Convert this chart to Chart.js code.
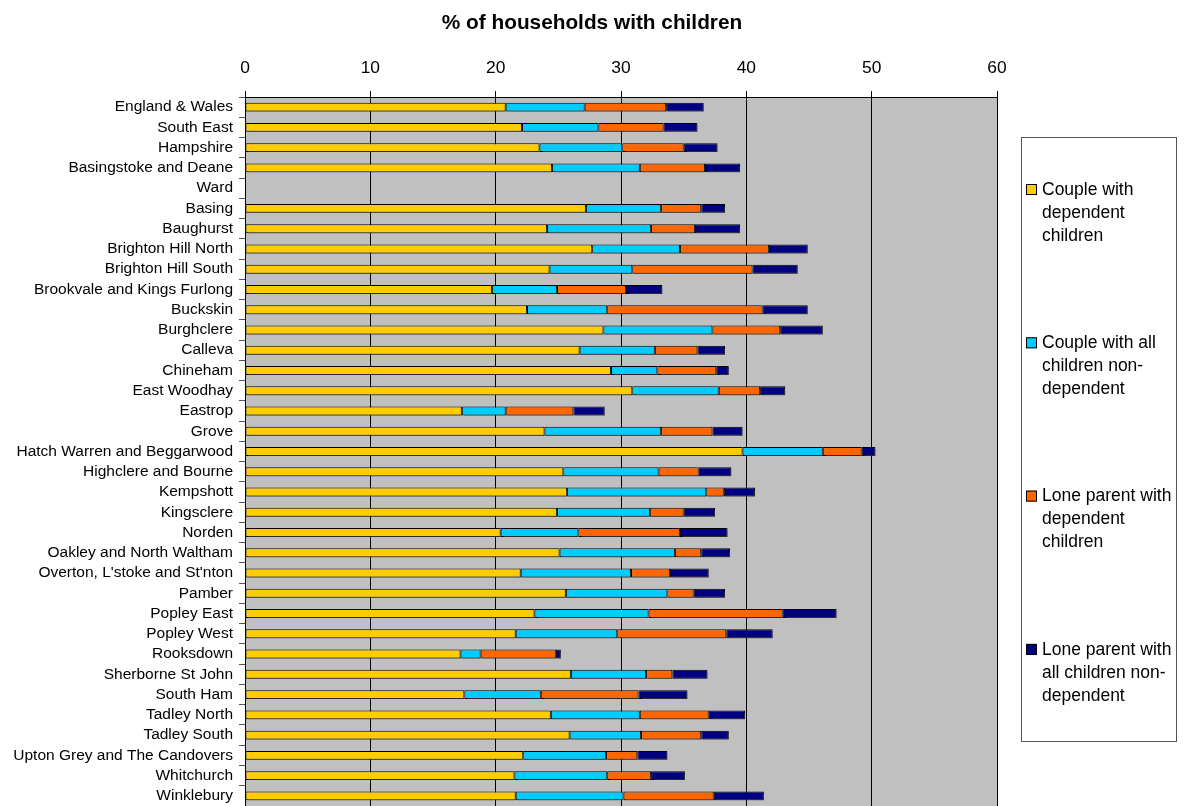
<!DOCTYPE html>
<html>
<head>
<meta charset="utf-8">
<script src="https://cdn.jsdelivr.net/npm/chart.js@4.4.1/dist/chart.umd.min.js"></script>
<style>
  html, body { margin: 0; padding: 0; background: #ffffff; }
  #wrap { width: 1187px; height: 806px; }
</style>
</head>
<body>
<div id="wrap"><canvas id="chart" width="1187" height="806"></canvas></div>
<script>
const categories = [
    "England & Wales", "South East", "Hampshire", "Basingstoke and Deane", "Ward",
    "Basing", "Baughurst", "Brighton Hill North", "Brighton Hill South",
    "Brookvale and Kings Furlong", "Buckskin", "Burghclere", "Calleva", "Chineham",
    "East Woodhay", "Eastrop", "Grove", "Hatch Warren and Beggarwood",
    "Highclere and Bourne", "Kempshott", "Kingsclere", "Norden",
    "Oakley and North Waltham", "Overton, L'stoke and St'nton", "Pamber",
    "Popley East", "Popley West", "Rooksdown", "Sherborne St John", "South Ham",
    "Tadley North", "Tadley South", "Upton Grey and The Candovers", "Whitchurch",
    "Winklebury"
];

const seriesNames = [
    "Couple with dependent children",
    "Couple with all children non-dependent",
    "Lone parent with dependent children",
    "Lone parent with all children non-dependent"
];

// % of households, one value per category (Ward is a heading row)
const coupleDependent = [
    20.8, 22.1, 23.5, 24.5, null, 27.2, 24.1, 27.7, 24.3, 19.7, 22.5, 28.6, 26.7, 29.2,
    30.9, 17.3, 23.9, 39.7, 25.4, 25.7, 24.9, 20.4, 25.1, 22.0, 25.6, 23.1, 21.6, 17.2,
    26.0, 17.5, 24.4, 25.9, 22.2, 21.5, 21.6
];
const coupleNonDependent = [
    6.3, 6.1, 6.6, 7.0, null, 6.0, 8.3, 7.0, 6.6, 5.2, 6.4, 8.7, 6.0, 3.7,
    6.9, 3.5, 9.3, 6.4, 7.6, 11.1, 7.4, 6.2, 9.2, 8.8, 8.1, 9.1, 8.1, 1.6,
    6.0, 6.1, 7.1, 5.7, 6.6, 7.4, 8.6
];
const loneDependent = [
    6.5, 5.2, 4.9, 5.2, null, 3.2, 3.5, 7.1, 9.6, 5.5, 12.4, 5.4, 3.4, 4.7,
    3.3, 5.4, 4.1, 3.1, 3.2, 1.4, 2.7, 8.1, 2.1, 3.1, 2.1, 10.7, 8.7, 6.0,
    2.1, 7.8, 5.5, 4.8, 2.5, 3.5, 7.2
];
const loneNonDependent = [
    3.0, 2.7, 2.7, 2.8, null, 1.9, 3.6, 3.1, 3.6, 2.9, 3.6, 3.4, 2.2, 1.0,
    2.0, 2.5, 2.4, 1.1, 2.6, 2.5, 2.5, 3.8, 2.3, 3.1, 2.5, 4.3, 3.7, 0.4,
    2.8, 3.9, 2.9, 2.2, 2.4, 2.7, 4.0
];

const tickValues = [0, 10, 20, 30, 40, 50, 60];

const colors = ["#FFCC00", "#00CCFF", "#FF6600", "#000080"];
const FONT = "'Liberation Sans', Arial, sans-serif";
const titleText = "% of households with children";

const PLOT_LEFT = 245;
const PLOT_TOP = 97;

// grey plot area
const plotBackground = {
    id: "plotBackground",
    beforeDraw(chart) {
        const { ctx, chartArea } = chart;
        ctx.save();
        ctx.fillStyle = "#C0C0C0";
        ctx.fillRect(chartArea.left, chartArea.top, chartArea.right - chartArea.left, chartArea.bottom - chartArea.top);
        ctx.restore();
    }
};

// excel-style drop shadow under the bars
const barShadow = {
    id: "barShadow",
    beforeDatasetsDraw(chart) {
        const ctx = chart.ctx;
        ctx.save();
        ctx.shadowColor = "rgba(70,70,70,0.6)";
        ctx.shadowOffsetX = 2;
        ctx.shadowOffsetY = 2;
        ctx.shadowBlur = 0;
    },
    afterDatasetsDraw(chart) {
        chart.ctx.restore();
    }
};

function wrapText(ctx, text, maxWidth) {
    const tokens = text.match(/[^\s-]+-?/g);
    const lines = [];
    let line = "";
    tokens.forEach(tok => {
        const joiner = (line === "" || line.endsWith("-")) ? "" : " ";
        const test = line + joiner + tok;
        if (line !== "" && ctx.measureText(test).width > maxWidth) {
            lines.push(line);
            line = tok;
        } else {
            line = test;
        }
    });
    if (line) lines.push(line);
    return lines;
}

// title centred on the whole picture + boxed legend on the right
const titleAndLegend = {
    id: "titleAndLegend",
    afterDraw(chart) {
        const ctx = chart.ctx;
        ctx.save();
        ctx.fillStyle = "#000000";
        ctx.font = "bold 20.8px " + FONT;
        ctx.textAlign = "center";
        ctx.textBaseline = "middle";
        ctx.fillText(titleText, 592, 23);

        const box = { x: 1021, y: 137, w: 155, h: 604 };
        ctx.fillStyle = "#ffffff";
        ctx.fillRect(box.x, box.y, box.w, box.h);
        ctx.strokeStyle = "#555555";
        ctx.lineWidth = 1;
        ctx.strokeRect(box.x + 0.5, box.y + 0.5, box.w, box.h);

        ctx.font = "17.5px " + FONT;
        ctx.textAlign = "left";
        const firstY = 190, itemGap = 153.3, lineH = 23;
        chart.data.datasets.forEach((ds, i) => {
            const y0 = firstY + i * itemGap;
            ctx.fillStyle = ds.backgroundColor;
            ctx.fillRect(1026, y0 - 6, 11, 11);
            ctx.strokeStyle = "#000000";
            ctx.strokeRect(1026.5, y0 - 5.5, 10, 10);
            ctx.fillStyle = "#000000";
            wrapText(ctx, ds.label, 134).forEach((ln, j) => {
                ctx.fillText(ln, 1042, y0 + j * lineH);
            });
        });
        ctx.restore();
    }
};

const seriesData = [coupleDependent, coupleNonDependent, loneDependent, loneNonDependent];

new Chart(document.getElementById("chart"), {
    type: "bar",
    data: {
        labels: categories,
        datasets: seriesNames.map((name, i) => ({
            label: name,
            data: seriesData[i],
            backgroundColor: colors[i],
            borderColor: "#000000",
            borderWidth: 1,
            borderSkipped: false,
            categoryPercentage: 1,
            barPercentage: 0.44
        }))
    },
    options: {
        indexAxis: "y",
        responsive: false,
        animation: false,
        layout: { padding: { left: 0, right: 190, top: 0, bottom: 0 } },
        scales: {
            x: {
                position: "top",
                stacked: true,
                min: 0,
                max: 60,
                afterBuildTicks(scale) {
                    scale.ticks = tickValues.map(v => ({ value: v }));
                },
                afterFit(scale) {
                    scale.height = PLOT_TOP;
                    scale.paddingLeft = 0;
                    scale.paddingRight = 0;
                },
                border: { display: true, color: "#000000", width: 1 },
                grid: { color: "#000000", lineWidth: 1, tickLength: 6, tickColor: "#000000" },
                ticks: {
                    color: "#000000",
                    padding: 12,
                    font: { family: FONT, size: 17.4 }
                }
            },
            y: {
                stacked: true,
                afterFit(scale) {
                    scale.width = PLOT_LEFT;
                    scale.paddingTop = 0;
                    scale.paddingBottom = 0;
                },
                border: { display: true, color: "#000000", width: 1 },
                grid: { drawOnChartArea: false, drawTicks: true, tickLength: 6, tickColor: "#555555", offset: true },
                ticks: {
                    color: "#000000",
                    padding: 6,
                    autoSkip: false,
                    font: { family: FONT, size: 15.5 }
                }
            }
        },
        plugins: {
            legend: { display: false },
            tooltip: { enabled: false },
            title: { display: false }
        }
    },
    plugins: [plotBackground, barShadow, titleAndLegend]
});
</script>
</body>
</html>
